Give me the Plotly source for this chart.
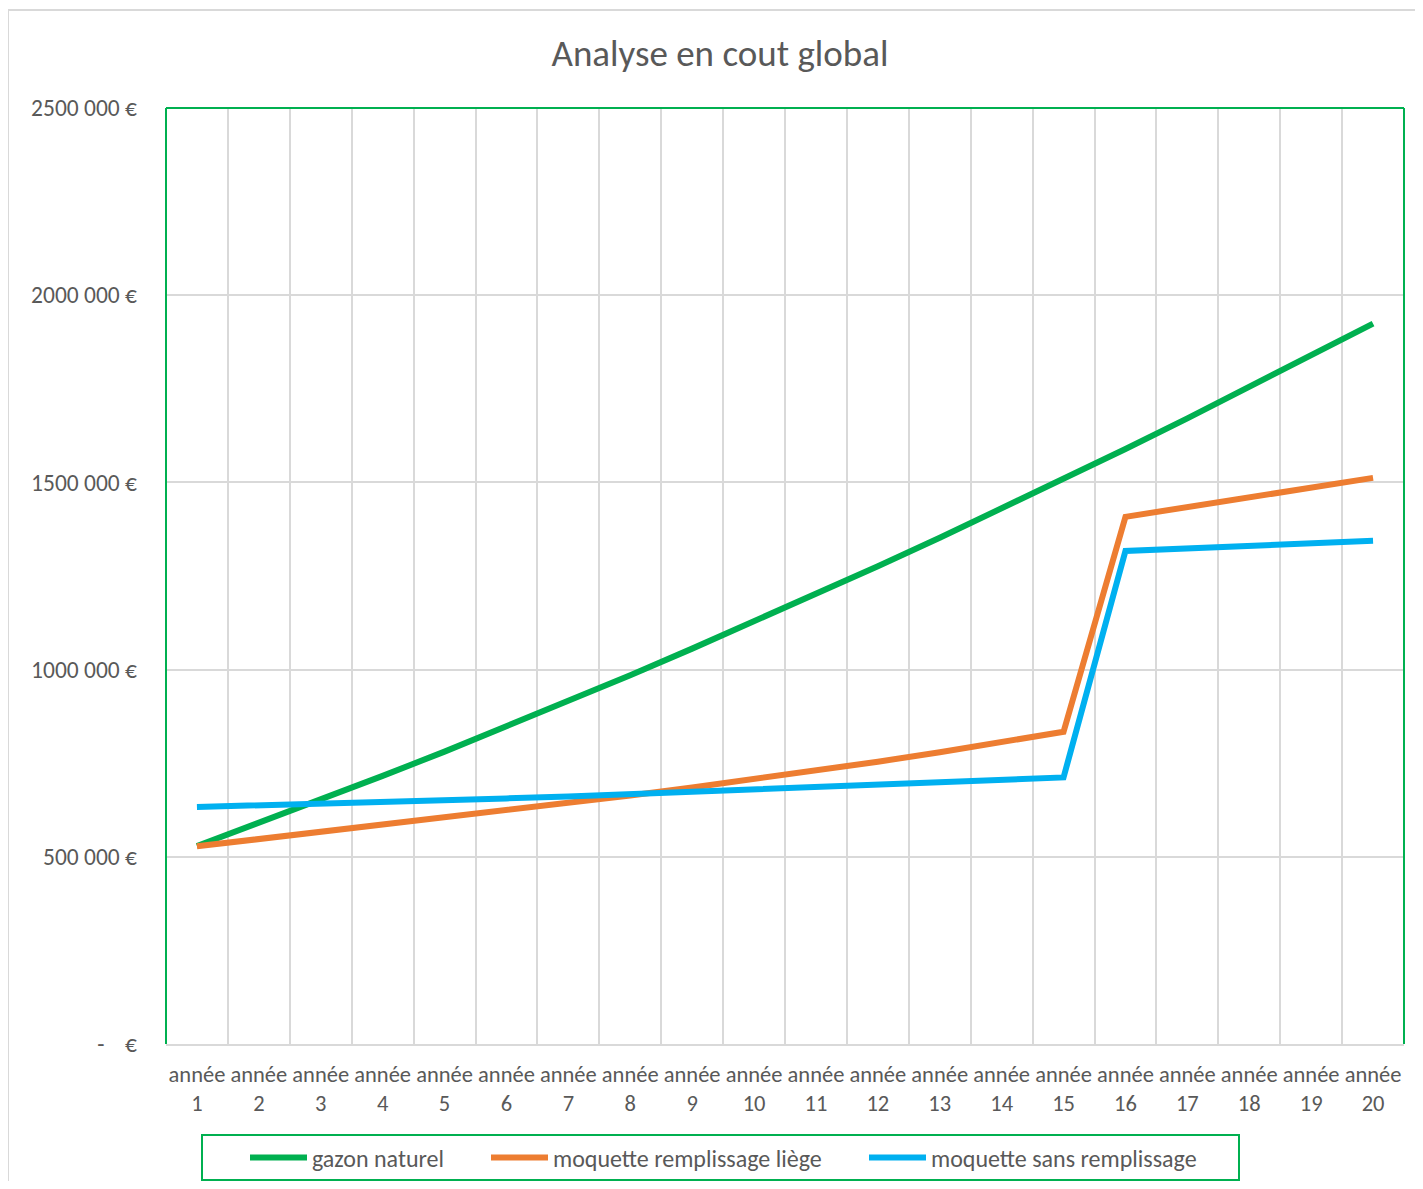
import plotly.graph_objects as go

# ---- data ----
years = list(range(1, 21))
categories = [f"année<br>{y}" for y in years]

gazon_naturel = [529000, 590000, 652000, 716000, 781000, 848000, 916000, 985000, 1056000, 1128000,
                 1201000, 1276000, 1352000, 1430000, 1509000, 1589000, 1671000, 1754000, 1838000, 1924000]
moquette_liege = [528000, 547000, 566000, 585000, 604000, 624000, 643000, 664000, 685000, 707000,
                  730000, 754000, 779000, 806000, 834000, 1408000, 1434000, 1460000, 1486000, 1512000]
moquette_sans = [633000, 637000, 642000, 646000, 651000, 656000, 661000, 667000, 673000, 679000,
                 685000, 691000, 698000, 705000, 712000, 1317000, 1324000, 1330000, 1337000, 1344000]

series_names = ["gazon naturel", "moquette remplissage liège", "moquette sans remplissage"]
series_colors = ["#00B050", "#ED7D31", "#00B0F0"]

y_tickvals = [0, 500000, 1000000, 1500000, 2000000, 2500000]
y_ticktext = ["-\u00a0\u00a0\u00a0\u2009€", "500 000 €", "1000 000 €", "1500 000 €", "2000 000 €", "2500 000 €"]

TEXT = "#595959"
GRID = "#D9D9D9"
FONT = "Calibri, Carlito, Lato, sans-serif"

# page body has an 8px margin on every side; the figure is sized so the page fits the window
OFF = 8
W, H = 1423 - 2 * OFF, 1189 - 2 * OFF
L, T = 166 - OFF, 108 - OFF
pw, ph = 1238, 936
R, B = W - L - pw, H - T - ph


def px(xs):  # screen x -> paper x
    return (xs - OFF - L) / pw


def py(ys):  # screen y -> paper y
    return (OFF + T + ph - ys) / ph


def cx(xs):  # screen x -> container x
    return (xs - OFF) / W


def cy(ys):  # screen y -> container y
    return 1 - (ys - OFF) / H


legend_names = ["legend", "legend2", "legend3"]
legend_x = [245, 486, 864]

fig = go.Figure()
for name, vals, color, lg in zip(series_names, [gazon_naturel, moquette_liege, moquette_sans],
                                 series_colors, legend_names):
    fig.add_trace(go.Scatter(x=categories, y=vals, mode="lines", name=name, legend=lg,
                             line=dict(color=color, width=6)))

legend_common = dict(orientation="h", xanchor="left", xref="container", yref="container",
                     y=cy(1158), yanchor="middle",
                     bgcolor="rgba(0,0,0,0)", borderwidth=0,
                     font=dict(size=24, color=TEXT, family=FONT), itemwidth=57)

fig.update_layout(
    width=W, height=H,
    margin=dict(l=L, r=R, t=T, b=B, pad=0, autoexpand=False),
    paper_bgcolor="white", plot_bgcolor="white",
    font=dict(family=FONT, color=TEXT, size=23),
    title=dict(text="Analyse en cout global", x=cx(720), xanchor="center", xref="container",
               y=cy(53), yanchor="middle", yref="container",
               font=dict(size=37, color=TEXT, family=FONT)),
    xaxis=dict(type="category", tickson="boundaries", range=[-0.5, 19.5], automargin=False,
               showgrid=True, gridcolor=GRID, gridwidth=2,
               showline=True, linecolor=GRID, linewidth=2,
               ticks="", tickangle=0, tickfont=dict(size=22.5, color=TEXT), ticklabelstandoff=9,
               fixedrange=True),
    yaxis=dict(range=[0, 2500000], tickvals=y_tickvals, ticktext=y_ticktext, automargin=False,
               showgrid=True, gridcolor=GRID, gridwidth=2, zeroline=False,
               showline=False, ticks="", tickfont=dict(size=23.5, color=TEXT),
               ticklabelstandoff=28, fixedrange=True),
    legend=dict(x=cx(legend_x[0]), **legend_common),
    legend2=dict(x=cx(legend_x[1]), **legend_common),
    legend3=dict(x=cx(legend_x[2]), **legend_common),
    showlegend=True,
    shapes=[
        # outer chart border
        dict(type="rect", xref="paper", yref="paper", x0=px(8), x1=px(1440), y0=py(1210), y1=py(10),
             line=dict(color=GRID, width=2), layer="below"),
        # green plot-area border (left, top, right)
        dict(type="line", xref="paper", yref="paper", x0=0, x1=0, y0=0, y1=1,
             line=dict(color="#00B050", width=2), layer="above"),
        dict(type="line", xref="paper", yref="paper", x0=0, x1=1, y0=1, y1=1,
             line=dict(color="#00B050", width=2), layer="above"),
        dict(type="line", xref="paper", yref="paper", x0=1, x1=1, y0=0, y1=1,
             line=dict(color="#00B050", width=2), layer="above"),
        # legend box
        dict(type="rect", xref="paper", yref="paper", x0=px(202), x1=px(1239), y0=py(1180), y1=py(1135),
             line=dict(color="#00B050", width=2), layer="below"),
    ],
)

fig.write_html("out.html")
